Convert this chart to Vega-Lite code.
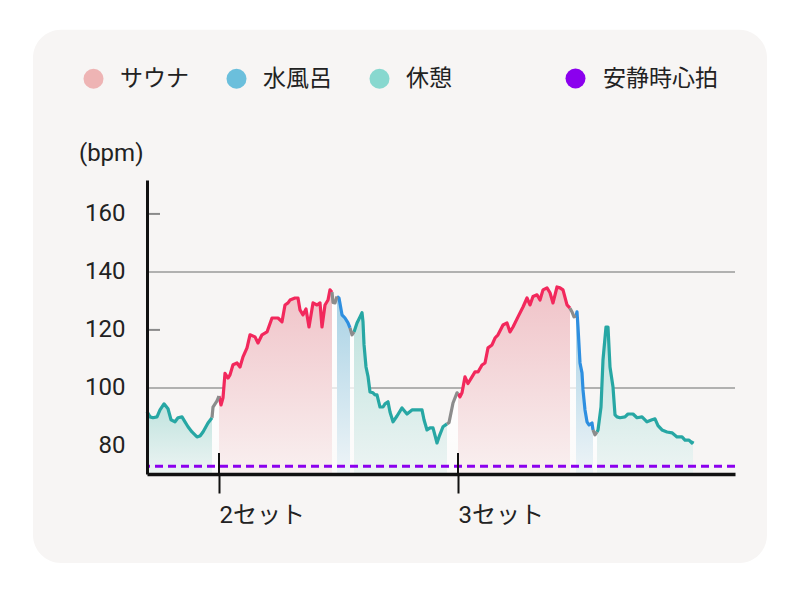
{
  "$schema": "https://vega.github.io/schema/vega-lite/v6.json",
  "width": 588,
  "height": 294,
  "autosize": "none",
  "padding": {"left": 147, "top": 180, "right": 65, "bottom": 119},
  "background": "#ffffff",
  "config": {
    "view": {"stroke": null},
    "font": "Roboto, Noto Sans CJK JP"
  },
  "datasets": {
    "hr": [
      {"t":0,"bpm":91.8,"phase":"rest","seg":"r1"},{"t":3,"bpm":90.0,"phase":"rest","seg":"r1"},{"t":6,"bpm":89.7,"phase":"rest","seg":"r1"},{"t":10,"bpm":90.0,"phase":"rest","seg":"r1"},{"t":13,"bpm":92.4,"phase":"rest","seg":"r1"},{"t":17,"bpm":94.5,"phase":"rest","seg":"r1"},{"t":21,"bpm":92.8,"phase":"rest","seg":"r1"},{"t":24,"bpm":89.0,"phase":"rest","seg":"r1"},{"t":28,"bpm":88.3,"phase":"rest","seg":"r1"},{"t":31,"bpm":89.7,"phase":"rest","seg":"r1"},{"t":35,"bpm":90.0,"phase":"rest","seg":"r1"},{"t":38,"bpm":88.3,"phase":"rest","seg":"r1"},{"t":41,"bpm":86.6,"phase":"rest","seg":"r1"},{"t":45,"bpm":84.8,"phase":"rest","seg":"r1"},{"t":50,"bpm":83.1,"phase":"rest","seg":"r1"},{"t":53,"bpm":83.4,"phase":"rest","seg":"r1"},{"t":56,"bpm":84.8,"phase":"rest","seg":"r1"},{"t":61,"bpm":87.9,"phase":"rest","seg":"r1"},{"t":65,"bpm":89.7,"phase":"rest","seg":"r1"},
      {"t":65,"bpm":89.7,"phase":"trans","seg":"g1"},{"t":66,"bpm":93.4,"phase":"trans","seg":"g1"},{"t":70,"bpm":95.5,"phase":"trans","seg":"g1"},{"t":72,"bpm":97.2,"phase":"trans","seg":"g1"},
      {"t":72,"bpm":97.2,"phase":"sauna","seg":"s2"},{"t":74,"bpm":94.1,"phase":"sauna","seg":"s2"},{"t":76,"bpm":96.6,"phase":"sauna","seg":"s2"},{"t":78,"bpm":105.0,"phase":"sauna","seg":"s2"},{"t":81,"bpm":103.4,"phase":"sauna","seg":"s2"},{"t":83,"bpm":104.5,"phase":"sauna","seg":"s2"},{"t":86,"bpm":108.0,"phase":"sauna","seg":"s2"},{"t":90,"bpm":108.6,"phase":"sauna","seg":"s2"},{"t":93,"bpm":107.2,"phase":"sauna","seg":"s2"},{"t":96,"bpm":110.7,"phase":"sauna","seg":"s2"},{"t":100,"bpm":113.8,"phase":"sauna","seg":"s2"},{"t":103,"bpm":118.3,"phase":"sauna","seg":"s2"},{"t":108,"bpm":117.6,"phase":"sauna","seg":"s2"},{"t":111,"bpm":115.5,"phase":"sauna","seg":"s2"},{"t":115,"bpm":118.3,"phase":"sauna","seg":"s2"},{"t":120,"bpm":119.3,"phase":"sauna","seg":"s2"},{"t":125,"bpm":124.1,"phase":"sauna","seg":"s2"},{"t":131,"bpm":124.1,"phase":"sauna","seg":"s2"},{"t":135,"bpm":122.8,"phase":"sauna","seg":"s2"},{"t":138,"bpm":128.6,"phase":"sauna","seg":"s2"},{"t":141,"bpm":129.3,"phase":"sauna","seg":"s2"},{"t":143,"bpm":130.3,"phase":"sauna","seg":"s2"},{"t":148,"bpm":131.0,"phase":"sauna","seg":"s2"},{"t":151,"bpm":131.0,"phase":"sauna","seg":"s2"},{"t":153,"bpm":126.9,"phase":"sauna","seg":"s2"},{"t":156,"bpm":125.2,"phase":"sauna","seg":"s2"},{"t":159,"bpm":127.2,"phase":"sauna","seg":"s2"},{"t":162,"bpm":121.0,"phase":"sauna","seg":"s2"},{"t":166,"bpm":129.3,"phase":"sauna","seg":"s2"},{"t":170,"bpm":128.6,"phase":"sauna","seg":"s2"},{"t":173,"bpm":129.3,"phase":"sauna","seg":"s2"},{"t":175,"bpm":121.0,"phase":"sauna","seg":"s2"},{"t":178,"bpm":128.6,"phase":"sauna","seg":"s2"},{"t":181,"bpm":130.3,"phase":"sauna","seg":"s2"},{"t":183,"bpm":133.8,"phase":"sauna","seg":"s2"},{"t":185,"bpm":133.0,"phase":"sauna","seg":"s2"},
      {"t":185,"bpm":133.0,"phase":"trans","seg":"g2"},{"t":186,"bpm":129.5,"phase":"trans","seg":"g2"},{"t":188,"bpm":129.3,"phase":"trans","seg":"g2"},{"t":190,"bpm":131.5,"phase":"trans","seg":"g2"},
      {"t":190,"bpm":131.5,"phase":"water","seg":"w2"},{"t":192,"bpm":131.0,"phase":"water","seg":"w2"},{"t":195,"bpm":125.2,"phase":"water","seg":"w2"},{"t":198,"bpm":124.1,"phase":"water","seg":"w2"},{"t":201,"bpm":122.4,"phase":"water","seg":"w2"},{"t":203,"bpm":120.7,"phase":"water","seg":"w2"},
      {"t":203,"bpm":120.7,"phase":"trans","seg":"g3"},{"t":205,"bpm":118.3,"phase":"trans","seg":"g3"},{"t":207,"bpm":119.3,"phase":"trans","seg":"g3"},
      {"t":207,"bpm":119.3,"phase":"rest","seg":"r2"},{"t":210,"bpm":122.4,"phase":"rest","seg":"r2"},{"t":213,"bpm":124.5,"phase":"rest","seg":"r2"},{"t":215,"bpm":125.9,"phase":"rest","seg":"r2"},{"t":216,"bpm":122.8,"phase":"rest","seg":"r2"},{"t":217,"bpm":115.0,"phase":"rest","seg":"r2"},{"t":219,"bpm":107.2,"phase":"rest","seg":"r2"},{"t":221,"bpm":104.0,"phase":"rest","seg":"r2"},{"t":223,"bpm":98.6,"phase":"rest","seg":"r2"},{"t":226,"bpm":98.3,"phase":"rest","seg":"r2"},{"t":228,"bpm":97.6,"phase":"rest","seg":"r2"},{"t":230,"bpm":97.6,"phase":"rest","seg":"r2"},{"t":233,"bpm":93.4,"phase":"rest","seg":"r2"},{"t":236,"bpm":93.4,"phase":"rest","seg":"r2"},{"t":238,"bpm":94.5,"phase":"rest","seg":"r2"},{"t":241,"bpm":95.2,"phase":"rest","seg":"r2"},{"t":243,"bpm":91.7,"phase":"rest","seg":"r2"},{"t":246,"bpm":88.3,"phase":"rest","seg":"r2"},{"t":250,"bpm":90.3,"phase":"rest","seg":"r2"},{"t":255,"bpm":93.1,"phase":"rest","seg":"r2"},{"t":260,"bpm":91.0,"phase":"rest","seg":"r2"},{"t":265,"bpm":92.4,"phase":"rest","seg":"r2"},{"t":270,"bpm":92.4,"phase":"rest","seg":"r2"},{"t":275,"bpm":92.4,"phase":"rest","seg":"r2"},{"t":277,"bpm":89.0,"phase":"rest","seg":"r2"},{"t":280,"bpm":85.5,"phase":"rest","seg":"r2"},{"t":283,"bpm":86.2,"phase":"rest","seg":"r2"},{"t":286,"bpm":86.2,"phase":"rest","seg":"r2"},{"t":290,"bpm":81.0,"phase":"rest","seg":"r2"},{"t":292,"bpm":83.1,"phase":"rest","seg":"r2"},{"t":296,"bpm":86.6,"phase":"rest","seg":"r2"},{"t":300,"bpm":87.6,"phase":"rest","seg":"r2"},
      {"t":300,"bpm":87.6,"phase":"trans","seg":"g4"},{"t":302,"bpm":88.0,"phase":"trans","seg":"g4"},{"t":306,"bpm":94.8,"phase":"trans","seg":"g4"},{"t":310,"bpm":98.3,"phase":"trans","seg":"g4"},{"t":311,"bpm":98.0,"phase":"trans","seg":"g4"},
      {"t":311,"bpm":98.0,"phase":"sauna","seg":"s3"},{"t":313,"bpm":96.9,"phase":"sauna","seg":"s3"},{"t":315,"bpm":98.3,"phase":"sauna","seg":"s3"},{"t":318,"bpm":103.8,"phase":"sauna","seg":"s3"},{"t":321,"bpm":101.5,"phase":"sauna","seg":"s3"},{"t":325,"bpm":103.8,"phase":"sauna","seg":"s3"},{"t":328,"bpm":105.5,"phase":"sauna","seg":"s3"},{"t":331,"bpm":105.5,"phase":"sauna","seg":"s3"},{"t":335,"bpm":107.9,"phase":"sauna","seg":"s3"},{"t":338,"bpm":108.6,"phase":"sauna","seg":"s3"},{"t":341,"bpm":113.8,"phase":"sauna","seg":"s3"},{"t":345,"bpm":114.8,"phase":"sauna","seg":"s3"},{"t":348,"bpm":117.2,"phase":"sauna","seg":"s3"},{"t":351,"bpm":118.3,"phase":"sauna","seg":"s3"},{"t":356,"bpm":121.7,"phase":"sauna","seg":"s3"},{"t":360,"bpm":122.4,"phase":"sauna","seg":"s3"},{"t":363,"bpm":119.3,"phase":"sauna","seg":"s3"},{"t":366,"bpm":121.0,"phase":"sauna","seg":"s3"},{"t":371,"bpm":124.5,"phase":"sauna","seg":"s3"},{"t":376,"bpm":127.9,"phase":"sauna","seg":"s3"},{"t":380,"bpm":131.0,"phase":"sauna","seg":"s3"},{"t":383,"bpm":128.6,"phase":"sauna","seg":"s3"},{"t":386,"bpm":131.5,"phase":"sauna","seg":"s3"},{"t":390,"bpm":132.1,"phase":"sauna","seg":"s3"},{"t":393,"bpm":130.3,"phase":"sauna","seg":"s3"},{"t":396,"bpm":133.8,"phase":"sauna","seg":"s3"},{"t":400,"bpm":134.5,"phase":"sauna","seg":"s3"},{"t":403,"bpm":132.8,"phase":"sauna","seg":"s3"},{"t":406,"bpm":129.3,"phase":"sauna","seg":"s3"},{"t":410,"bpm":134.8,"phase":"sauna","seg":"s3"},{"t":413,"bpm":134.5,"phase":"sauna","seg":"s3"},{"t":416,"bpm":133.8,"phase":"sauna","seg":"s3"},{"t":420,"bpm":128.6,"phase":"sauna","seg":"s3"},{"t":423,"bpm":127.5,"phase":"sauna","seg":"s3"},
      {"t":423,"bpm":127.5,"phase":"trans","seg":"g5"},{"t":425,"bpm":126.2,"phase":"trans","seg":"g5"},{"t":427,"bpm":124.5,"phase":"trans","seg":"g5"},{"t":429,"bpm":124.8,"phase":"trans","seg":"g5"},
      {"t":429,"bpm":124.8,"phase":"water","seg":"w3"},{"t":430,"bpm":126.2,"phase":"water","seg":"w3"},{"t":431,"bpm":121.0,"phase":"water","seg":"w3"},{"t":433,"bpm":108.6,"phase":"water","seg":"w3"},{"t":435,"bpm":105.2,"phase":"water","seg":"w3"},{"t":436,"bpm":99.3,"phase":"water","seg":"w3"},{"t":438,"bpm":92.4,"phase":"water","seg":"w3"},{"t":440,"bpm":88.3,"phase":"water","seg":"w3"},{"t":442,"bpm":87.2,"phase":"water","seg":"w3"},{"t":445,"bpm":87.9,"phase":"water","seg":"w3"},{"t":446,"bpm":85.5,"phase":"water","seg":"w3"},
      {"t":446,"bpm":85.5,"phase":"trans","seg":"g6"},{"t":448,"bpm":83.8,"phase":"trans","seg":"g6"},{"t":450,"bpm":84.8,"phase":"trans","seg":"g6"},
      {"t":450,"bpm":84.8,"phase":"rest","seg":"r3"},{"t":451,"bpm":85.5,"phase":"rest","seg":"r3"},{"t":454,"bpm":93.4,"phase":"rest","seg":"r3"},{"t":456,"bpm":109.7,"phase":"rest","seg":"r3"},{"t":459,"bpm":121.0,"phase":"rest","seg":"r3"},{"t":461,"bpm":121.0,"phase":"rest","seg":"r3"},{"t":463,"bpm":107.2,"phase":"rest","seg":"r3"},{"t":466,"bpm":100.3,"phase":"rest","seg":"r3"},{"t":468,"bpm":90.7,"phase":"rest","seg":"r3"},{"t":470,"bpm":90.0,"phase":"rest","seg":"r3"},{"t":473,"bpm":89.7,"phase":"rest","seg":"r3"},{"t":478,"bpm":90.0,"phase":"rest","seg":"r3"},{"t":481,"bpm":91.0,"phase":"rest","seg":"r3"},{"t":486,"bpm":91.0,"phase":"rest","seg":"r3"},{"t":490,"bpm":89.7,"phase":"rest","seg":"r3"},{"t":495,"bpm":90.0,"phase":"rest","seg":"r3"},{"t":500,"bpm":88.3,"phase":"rest","seg":"r3"},{"t":505,"bpm":89.0,"phase":"rest","seg":"r3"},{"t":508,"bpm":89.3,"phase":"rest","seg":"r3"},{"t":511,"bpm":87.0,"phase":"rest","seg":"r3"},{"t":515,"bpm":85.5,"phase":"rest","seg":"r3"},{"t":520,"bpm":84.8,"phase":"rest","seg":"r3"},{"t":525,"bpm":84.5,"phase":"rest","seg":"r3"},{"t":530,"bpm":83.1,"phase":"rest","seg":"r3"},{"t":535,"bpm":83.1,"phase":"rest","seg":"r3"},{"t":538,"bpm":82.0,"phase":"rest","seg":"r3"},{"t":542,"bpm":82.0,"phase":"rest","seg":"r3"},{"t":545,"bpm":81.0,"phase":"rest","seg":"r3"},{"t":546,"bpm":81.7,"phase":"rest","seg":"r3"}
    ],
    "grid": [{"v": 100}, {"v": 140}],
    "ticks": [{"v": 80}, {"v": 120}, {"v": 160}],
    "sets": [{"t": 72, "label": "2セット"}, {"t": 311, "label": "3セット"}],
    "resting": [{"name": "安静時心拍", "bpm": 73}],
    "phases": [{"name": "サウナ"}, {"name": "水風呂"}, {"name": "休憩"}]
  },
  "layer": [
    {
      "data": {"values": [{}]},
      "mark": {"type": "rect", "fill": "#f7f5f4", "cornerRadius": 28},
      "encoding": {
        "x": {"datum": -114, "type": "quantitative", "scale": {"domain": [0, 588], "nice": false, "zero": false},
          "axis": {"values": [72, 311], "labelExpr": "datum.value == 72 ? '2セット' : '3セット'", "title": null, "grid": false, "ticks": true, "tickSize": 19, "tickWidth": 2, "tickColor": "#111111", "domain": true, "domainColor": "#111111", "domainWidth": 3.5, "labelAlign": "left", "labelFontSize": 24, "labelColor": "#222222", "labelPadding": 10, "labelFlush": false, "zindex": 1}},
        "x2": {"datum": 620},
        "y": {"datum": 223.5, "type": "quantitative", "scale": {"domain": [70.3, 171.7], "nice": false, "zero": false},
          "axis": {"values": [80, 100, 120, 140, 160], "title": "(bpm)", "titleAngle": 0, "titleAlign": "right", "titleBaseline": "middle", "titleX": -4, "titleY": -27, "titleFontSize": 24, "titleFontWeight": "normal", "titleColor": "#222222", "grid": false, "ticks": false, "tickSize": 0, "domain": true, "domainColor": "#111111", "domainWidth": 3, "labelFontSize": 24, "labelColor": "#222222", "labelPadding": 22, "zindex": 1}},
        "y2": {"datum": 39.6}
      }
    },
    {
      "data": {"name": "grid"},
      "mark": {"type": "rule", "color": "#9a9a9a", "strokeWidth": 1.5},
      "encoding": {
        "y": {"field": "v", "type": "quantitative", "scale": {"domain": [70.3, 171.7], "nice": false, "zero": false}}
      }
    },
    {
      "data": {"name": "ticks"},
      "mark": {"type": "rule", "color": "#8a8a8a", "strokeWidth": 2},
      "encoding": {
        "x": {"datum": 0, "type": "quantitative", "scale": {"domain": [0, 588], "nice": false, "zero": false}},
        "x2": {"datum": 13},
        "y": {"field": "v", "type": "quantitative", "scale": {"domain": [70.3, 171.7], "nice": false, "zero": false}}
      }
    },
    {
      "data": {"name": "hr"},
      "transform": [{"filter": "datum.phase == 'rest'"}],
      "mark": {"type": "area", "fill": {"gradient": "linear", "x1": 0, "y1": 0, "x2": 0, "y2": 1, "stops": [{"offset": 0, "color": "#bfe3de"}, {"offset": 1, "color": "#edf4f3"}]}},
      "encoding": {
        "x": {"field": "t", "type": "quantitative", "scale": {"domain": [0, 588], "nice": false, "zero": false}},
        "y": {"field": "bpm", "type": "quantitative", "scale": {"domain": [70.3, 171.7], "nice": false, "zero": false}},
        "y2": {"datum": 70.3},
        "detail": {"field": "seg"}
      }
    },
    {
      "data": {"name": "hr"},
      "transform": [{"filter": "datum.phase == 'sauna'"}],
      "mark": {"type": "area", "fill": {"gradient": "linear", "x1": 0, "y1": 0, "x2": 0, "y2": 1, "stops": [{"offset": 0, "color": "#f0c3c8"}, {"offset": 1, "color": "#f9f0f0"}]}},
      "encoding": {
        "x": {"field": "t", "type": "quantitative", "scale": {"domain": [0, 588], "nice": false, "zero": false}},
        "y": {"field": "bpm", "type": "quantitative", "scale": {"domain": [70.3, 171.7], "nice": false, "zero": false}},
        "y2": {"datum": 70.3},
        "detail": {"field": "seg"}
      }
    },
    {
      "data": {"name": "hr"},
      "transform": [{"filter": "datum.phase == 'water'"}],
      "mark": {"type": "area", "fill": {"gradient": "linear", "x1": 0, "y1": 0, "x2": 0, "y2": 1, "stops": [{"offset": 0, "color": "#a9d2e5"}, {"offset": 1, "color": "#eef4f7"}]}},
      "encoding": {
        "x": {"field": "t", "type": "quantitative", "scale": {"domain": [0, 588], "nice": false, "zero": false}},
        "y": {"field": "bpm", "type": "quantitative", "scale": {"domain": [70.3, 171.7], "nice": false, "zero": false}},
        "y2": {"datum": 70.3},
        "detail": {"field": "seg"}
      }
    },
    {
      "data": {"name": "hr"},
      "transform": [{"filter": "datum.phase == 'trans'"}],
      "mark": {"type": "area", "fill": {"gradient": "linear", "x1": 0, "y1": 0, "x2": 0, "y2": 1, "stops": [{"offset": 0, "color": "rgba(255,255,255,0.9)"}, {"offset": 1, "color": "rgba(255,255,255,0.55)"}]}},
      "encoding": {
        "x": {"field": "t", "type": "quantitative", "scale": {"domain": [0, 588], "nice": false, "zero": false}},
        "y": {"field": "bpm", "type": "quantitative", "scale": {"domain": [70.3, 171.7], "nice": false, "zero": false}},
        "y2": {"datum": 70.3},
        "detail": {"field": "seg"}
      }
    },
    {
      "data": {"name": "hr"},
      "transform": [{"filter": "datum.phase == 'rest'"}],
      "mark": {"type": "line", "color": "#27a7a4", "strokeWidth": 3.2, "strokeJoin": "round"},
      "encoding": {
        "x": {"field": "t", "type": "quantitative", "scale": {"domain": [0, 588], "nice": false, "zero": false}},
        "y": {"field": "bpm", "type": "quantitative", "scale": {"domain": [70.3, 171.7], "nice": false, "zero": false}},
        "detail": {"field": "seg"}
      }
    },
    {
      "data": {"name": "hr"},
      "transform": [{"filter": "datum.phase == 'sauna'"}],
      "mark": {"type": "line", "color": "#f2285c", "strokeWidth": 3.2, "strokeJoin": "round"},
      "encoding": {
        "x": {"field": "t", "type": "quantitative", "scale": {"domain": [0, 588], "nice": false, "zero": false}},
        "y": {"field": "bpm", "type": "quantitative", "scale": {"domain": [70.3, 171.7], "nice": false, "zero": false}},
        "detail": {"field": "seg"}
      }
    },
    {
      "data": {"name": "hr"},
      "transform": [{"filter": "datum.phase == 'water'"}],
      "mark": {"type": "line", "color": "#2e8fe0", "strokeWidth": 3.2, "strokeJoin": "round"},
      "encoding": {
        "x": {"field": "t", "type": "quantitative", "scale": {"domain": [0, 588], "nice": false, "zero": false}},
        "y": {"field": "bpm", "type": "quantitative", "scale": {"domain": [70.3, 171.7], "nice": false, "zero": false}},
        "detail": {"field": "seg"}
      }
    },
    {
      "data": {"name": "hr"},
      "transform": [{"filter": "datum.phase == 'trans'"}],
      "mark": {"type": "line", "color": "#8c8c8c", "strokeWidth": 3.2, "strokeJoin": "round"},
      "encoding": {
        "x": {"field": "t", "type": "quantitative", "scale": {"domain": [0, 588], "nice": false, "zero": false}},
        "y": {"field": "bpm", "type": "quantitative", "scale": {"domain": [70.3, 171.7], "nice": false, "zero": false}},
        "detail": {"field": "seg"}
      }
    },
    {
      "data": {"name": "resting"},
      "mark": {"type": "rule", "color": "#8b00ee", "strokeWidth": 3, "strokeDash": [8, 5]},
      "encoding": {
        "y": {"field": "bpm", "type": "quantitative", "scale": {"domain": [70.3, 171.7], "nice": false, "zero": false}}
      }
    },
    {
      "data": {"name": "sets"},
      "mark": {"type": "rule", "color": "#111111", "strokeWidth": 2},
      "encoding": {
        "x": {"field": "t", "type": "quantitative", "scale": {"domain": [0, 588], "nice": false, "zero": false}},
        "y": {"datum": 70.3, "type": "quantitative", "scale": {"domain": [70.3, 171.7], "nice": false, "zero": false}},
        "y2": {"datum": 77.5}
      }
    },
    {
      "data": {"name": "phases"},
      "mark": {"type": "circle", "opacity": 0},
      "encoding": {
        "color": {"field": "name", "type": "nominal", "scale": {"domain": ["サウナ", "水風呂", "休憩"], "range": ["#eeb4b4", "#6bbfdc", "#88d8cf"]},
          "legend": {"title": null, "orient": "none", "legendX": -65, "legendY": -113, "direction": "horizontal", "columns": 3, "gridAlign": "all", "columnPadding": 36, "symbolType": "circle", "symbolSize": 400, "symbolOpacity": 1, "labelFontSize": 23, "labelColor": "#222222", "labelOffset": 15, "padding": 0}}
      }
    },
    {
      "data": {"name": "resting"},
      "mark": {"type": "circle", "opacity": 0},
      "encoding": {
        "fill": {"field": "name", "type": "nominal", "scale": {"domain": ["安静時心拍"], "range": ["#8b00ee"]},
          "legend": {"title": null, "orient": "none", "legendX": 417, "legendY": -113, "symbolType": "circle", "symbolSize": 400, "symbolOpacity": 1, "labelFontSize": 23, "labelColor": "#222222", "labelOffset": 16, "padding": 0}}
      }
    }
  ]
}
